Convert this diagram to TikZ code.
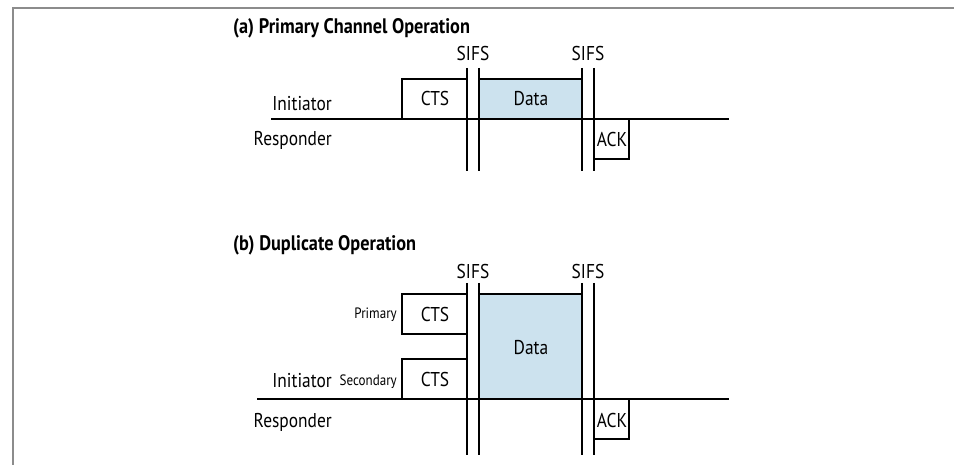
\documentclass[tikz,border=0pt]{standalone}
\usepackage{fontspec}
\setmainfont{PT Sans}[FakeStretch=0.87]
\definecolor{databg}{HTML}{CCE2EE}
\definecolor{framec}{HTML}{8C8C8C}
\begin{document}
\begin{tikzpicture}[x=1pt,y=-1pt,
  sig/.style={line width=2.4pt,line cap=butt,line join=miter},
  txt/.style={inner sep=0pt,font=\fontsize{20}{22}\selectfont},
  small/.style={inner sep=0pt,font=\fontsize{15}{17}\selectfont},
  ttl/.style={inner sep=0pt,font=\fontsize{21}{23}\selectfont\bfseries},
  datafill/.style={fill=databg}]
\useasboundingbox (0,0) rectangle (954,465);
% frame
\draw[framec,line width=1.5pt] (13,465) -- (13,8) -- (954,8);

% ===== (a) =====
\node[ttl,anchor=base west] (ta) at (233,34) {(a) Primary Channel Operation};
\fill[datafill] (479,79) rectangle (582,119);
\draw[sig] (271,119) -- (729,119);
\draw[sig] (402,119) -- (402,79) -- (467,79);
\draw[sig] (479,79) -- (582,79);
\draw[sig] (594,119) -- (594,159) -- (629,159) -- (629,119);
\foreach \x in {467,479,582,594} \draw[sig] (\x,68) -- (\x,171);
\node[txt,anchor=base] (sa1) at (473,61) {SIFS};
\node[txt,anchor=base] (sa2) at (588,61) {SIFS};
\node[txt,anchor=base] (ctsa) at (435,106) {CTS};
\node[txt,anchor=base] (dataa) at (531,106) {Data};
\node[txt,anchor=base] (acka) at (612,147) {ACK};
\node[txt,anchor=base east] (inia) at (332,111) {Initiator};
\node[txt,anchor=base east] (resa) at (332,146) {Responder};

% ===== (b) =====
\node[ttl,anchor=base west] (tb) at (233,251) {(b) Duplicate Operation};
\fill[datafill] (479,294) rectangle (582,399);
\draw[sig] (257,399) -- (729,399);
\draw[sig] (467,294) -- (402,294) -- (402,334) -- (467,334);
\draw[sig] (402,399) -- (402,359) -- (467,359);
\draw[sig] (479,294) -- (582,294);
\draw[sig] (594,399) -- (594,439) -- (629,439) -- (629,399);
\foreach \x in {467,479,582,594} \draw[sig] (\x,283) -- (\x,455);
\node[txt,anchor=base] (sb1) at (473,279) {SIFS};
\node[txt,anchor=base] (sb2) at (588,279) {SIFS};
\node[txt,anchor=base] (ctsp) at (435,322) {CTS};
\node[txt,anchor=base] (ctss) at (435,386) {CTS};
\node[txt,anchor=base] (datab) at (531,354) {Data};
\node[txt,anchor=base] (ackb) at (612,427) {ACK};
\node[small,anchor=base east] (prim) at (397,319) {Primary};
\node[small,anchor=base east] (sec) at (397,385) {Secondary};
\node[txt,anchor=base east] (inib) at (332,387) {Initiator};
\node[txt,anchor=base east] (resb) at (332,427) {Responder};
\end{tikzpicture}
\end{document}
